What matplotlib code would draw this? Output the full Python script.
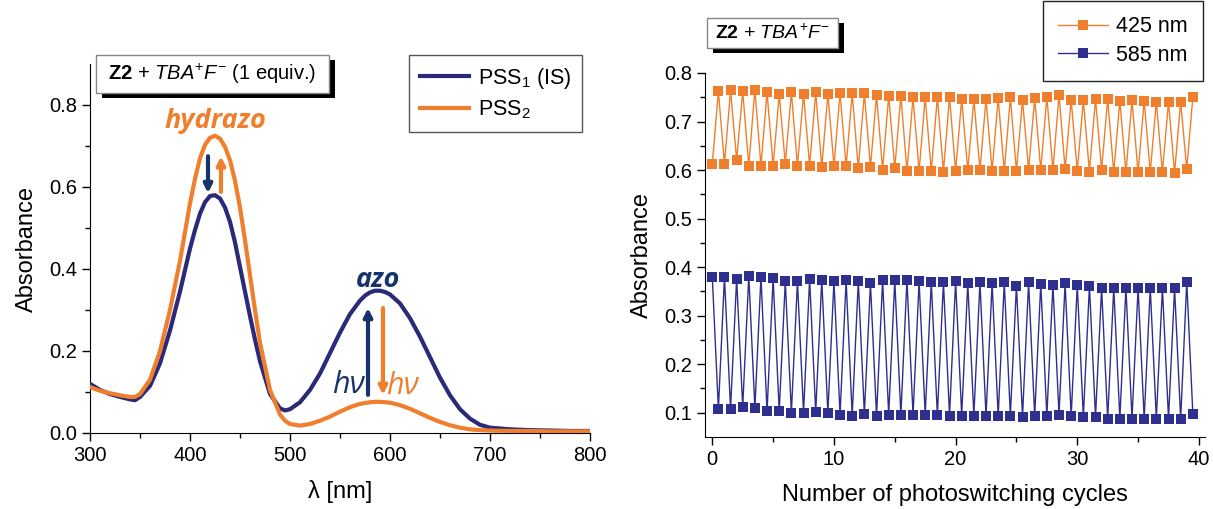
import numpy as np
import matplotlib
matplotlib.use('Agg')
import matplotlib.pyplot as plt
from matplotlib.patches import Rectangle

plt.rcParams['font.family'] = ['Liberation Sans', 'DejaVu Sans']
plt.rcParams['mathtext.fontset'] = 'custom'
plt.rcParams['mathtext.rm'] = 'Liberation Sans'
plt.rcParams['mathtext.it'] = 'Liberation Sans:italic'
plt.rcParams['mathtext.bf'] = 'Liberation Sans:bold'

# Left panel: absorption spectra
wavelength = [300, 310, 320, 330, 340, 345, 350, 360, 370, 380, 390, 400, 405, 410, 415,
              420, 425, 430, 435, 440, 445, 450, 455, 460, 465, 470, 480, 490, 495, 500,
              510, 520, 530, 540, 550, 560, 570, 575, 580, 585, 590, 595, 600, 610, 620,
              630, 640, 650, 660, 670, 680, 690, 700, 720, 740, 760, 780, 800]
pss1 = [0.120, 0.105, 0.095, 0.088, 0.082, 0.080, 0.088, 0.115, 0.170, 0.250, 0.345, 0.450,
        0.495, 0.535, 0.563, 0.578, 0.580, 0.572, 0.550, 0.515, 0.465, 0.405, 0.345, 0.285,
        0.228, 0.175, 0.095, 0.060, 0.055, 0.058, 0.075, 0.105, 0.145, 0.195, 0.245, 0.290,
        0.323, 0.335, 0.343, 0.347, 0.347, 0.344, 0.338, 0.316, 0.280, 0.235, 0.185, 0.135,
        0.092, 0.058, 0.035, 0.020, 0.013, 0.009, 0.007, 0.006, 0.005, 0.005]
pss2 = [0.112, 0.103, 0.097, 0.092, 0.088, 0.088, 0.095, 0.130, 0.200, 0.300, 0.420, 0.560,
        0.620, 0.670, 0.703, 0.720, 0.725, 0.718, 0.698, 0.665, 0.615, 0.550, 0.470, 0.385,
        0.300, 0.220, 0.105, 0.045, 0.030, 0.022, 0.018, 0.022, 0.030, 0.040, 0.052, 0.063,
        0.071, 0.073, 0.075, 0.076, 0.076, 0.075, 0.074, 0.068, 0.059, 0.048, 0.037, 0.027,
        0.019, 0.013, 0.009, 0.007, 0.006, 0.005, 0.005, 0.004, 0.004, 0.004]

# Right panel: photoswitching cycles (IS at whole cycles, PSS2 at half cycles)
a425_is = [0.612, 0.612, 0.621, 0.609, 0.609, 0.609, 0.613, 0.609, 0.609, 0.606, 0.609, 0.608,
           0.604, 0.606, 0.601, 0.604, 0.598, 0.598, 0.598, 0.597, 0.598, 0.600, 0.600, 0.598,
           0.598, 0.598, 0.600, 0.600, 0.600, 0.602, 0.598, 0.597, 0.600, 0.595, 0.595, 0.595,
           0.595, 0.595, 0.594, 0.602]
a425_pss = [0.762, 0.764, 0.762, 0.766, 0.760, 0.756, 0.760, 0.757, 0.760, 0.757, 0.758, 0.758,
            0.758, 0.754, 0.753, 0.753, 0.750, 0.750, 0.750, 0.750, 0.746, 0.746, 0.746, 0.748,
            0.750, 0.744, 0.748, 0.751, 0.755, 0.744, 0.744, 0.746, 0.746, 0.743, 0.744, 0.743,
            0.741, 0.741, 0.741, 0.750]
a585_is = [0.380, 0.380, 0.376, 0.382, 0.380, 0.377, 0.371, 0.371, 0.376, 0.374, 0.371, 0.373,
           0.371, 0.367, 0.373, 0.373, 0.374, 0.371, 0.369, 0.369, 0.371, 0.367, 0.369, 0.367,
           0.369, 0.362, 0.369, 0.366, 0.364, 0.367, 0.364, 0.362, 0.357, 0.357, 0.357, 0.357,
           0.357, 0.357, 0.356, 0.370]
a585_pss = [0.107, 0.107, 0.112, 0.109, 0.103, 0.103, 0.100, 0.100, 0.101, 0.100, 0.096, 0.094,
            0.098, 0.093, 0.096, 0.095, 0.095, 0.096, 0.095, 0.094, 0.094, 0.094, 0.093, 0.093,
            0.094, 0.092, 0.093, 0.093, 0.096, 0.093, 0.091, 0.091, 0.088, 0.088, 0.088, 0.088,
            0.088, 0.088, 0.087, 0.098]

navy = '#2B2A78'
orange = '#F07F2D'
blue = '#2E2F8E'
arrow_navy = '#17336B'

W, H = 1213, 509
fig = plt.figure(figsize=(W / 100, H / 100), dpi=100)


def px_box(x0, y0, x1, y1):
    return [x0 / W, 1 - y1 / H, (x1 - x0) / W, (y1 - y0) / H]


def style_axis(ax):
    ax.spines['top'].set_visible(False)
    ax.spines['right'].set_visible(False)
    ax.tick_params(which='major', direction='out', length=6, width=1, labelsize=14.5)
    ax.tick_params(which='minor', direction='out', length=3.5, width=1)


def title_box(x0, y0, x1, y1, label, size):
    shadow = Rectangle((x0 + 6 / W, y0 - 5 / H), x1 - x0, y1 - y0, transform=fig.transFigure,
                       facecolor='black', edgecolor='none', zorder=5)
    box = Rectangle((x0, y0), x1 - x0, y1 - y0, transform=fig.transFigure,
                    facecolor='white', edgecolor='#888888', lw=1, zorder=6)
    fig.patches.extend([shadow, box])
    fig.text((x0 + x1) / 2, (y0 + y1) / 2, label, ha='center', va='center',
             fontsize=size, zorder=7)


# ---- left panel ----
ax1 = fig.add_axes(px_box(90, 64, 590, 433))
ax1.plot(wavelength, pss1, color=navy, lw=3, label='PSS$_1$ (IS)', zorder=3)
ax1.plot(wavelength, pss2, color=orange, lw=3, label='PSS$_2$', zorder=3)
ax1.set_xlim(300, 800)
ax1.set_ylim(0, 0.9)
ax1.set_xticks([300, 400, 500, 600, 700, 800])
ax1.set_xticks([350, 450, 550, 650, 750], minor=True)
ax1.set_yticks([0.0, 0.2, 0.4, 0.6, 0.8])
ax1.set_yticks([0.1, 0.3, 0.5, 0.7], minor=True)
ax1.yaxis.set_major_formatter(matplotlib.ticker.FormatStrFormatter('%.1f'))
style_axis(ax1)
ax1.set_xlabel('λ [nm]', fontsize=17, labelpad=11)
ax1.set_ylabel('Absorbance', fontsize=17, labelpad=8)

ax1.text(425, 0.76, 'hydrazo', color=orange, fontsize=19.5, fontweight='bold',
         fontstyle='italic', ha='center', va='center', family='Open Sans')
ax1.text(588, 0.373, 'azo', color=arrow_navy, fontsize=19.5, fontweight='bold',
         fontstyle='italic', ha='center', va='center', family='Open Sans')

def arrow(x, y_from, y_to, color):
    ax1.annotate('', xy=(x, y_to), xytext=(x, y_from),
                 arrowprops=dict(arrowstyle='-|>', lw=3, color=color, mutation_scale=12,
                                 shrinkA=0, shrinkB=0))

arrow(418, 0.675, 0.585, arrow_navy)
arrow(431, 0.588, 0.675, orange)
arrow(578, 0.093, 0.305, arrow_navy)
arrow(593, 0.305, 0.093, orange)
ax1.text(575, 0.117, 'hν', color=arrow_navy, fontsize=22, fontstyle='italic', ha='right',
         va='center', family='Open Sans')
ax1.text(596, 0.115, 'hν', color=orange, fontsize=22, fontstyle='italic', ha='left',
         va='center', family='Open Sans')

leg1 = ax1.legend(loc='upper right', bbox_to_anchor=(582 / W, 1 - 55 / H),
                  bbox_transform=fig.transFigure, fontsize=15.5, frameon=True, fancybox=False,
                  edgecolor='#555555', framealpha=1, handlelength=2.3, borderaxespad=0,
                  labelspacing=0.35, handletextpad=0.4, borderpad=0.5)
leg1.get_frame().set_linewidth(1)

title_box(96 / W, 1 - 93 / H, 329 / W, 1 - 55 / H,
          r'$\mathbf{Z2}$ + $\mathit{TBA}^{+}\mathit{F}^{-}$ (1 equiv.)', 14.5)

# ---- right panel ----
cycles_is = np.arange(0, 40)
cycles_pss = cycles_is + 0.5
cycles = np.ravel(np.column_stack([cycles_is, cycles_pss]))
y425 = np.ravel(np.column_stack([a425_is, a425_pss]))
y585 = np.ravel(np.column_stack([a585_is, a585_pss]))

ax2 = fig.add_axes(px_box(705, 73, 1205, 437))
ax2.plot(cycles, y425, color=orange, lw=1, marker='s', markersize=6.8,
         markeredgewidth=0, label='425 nm')
ax2.plot(cycles, y585, color=blue, lw=1, marker='s', markersize=6.8,
         markeredgewidth=0, label='585 nm')
ax2.set_xlim(-0.6, 40.5)
ax2.set_ylim(0.05, 0.8)
ax2.set_xticks([0, 10, 20, 30, 40])
ax2.set_xticks([5, 15, 25, 35], minor=True)
ax2.set_yticks([0.1, 0.2, 0.3, 0.4, 0.5, 0.6, 0.7, 0.8])
ax2.set_yticks([0.15, 0.25, 0.35, 0.45, 0.55, 0.65, 0.75], minor=True)
style_axis(ax2)
ax2.set_xlabel('Number of photoswitching cycles', fontsize=17, labelpad=11)
ax2.set_ylabel('Absorbance', fontsize=17, labelpad=8)

leg2 = ax2.legend(loc='upper right', bbox_to_anchor=(1203 / W, 1 - 1 / H),
                  bbox_transform=fig.transFigure, fontsize=15.5, frameon=True, fancybox=False,
                  edgecolor='#222222', framealpha=1, handlelength=2.3, borderaxespad=0,
                  labelspacing=0.35, handletextpad=0.4, borderpad=0.7)
leg2.get_frame().set_linewidth(1)

title_box(707 / W, 1 - 48 / H, 838 / W, 1 - 18 / H,
          r'$\mathbf{Z2}$ + $\mathit{TBA}^{+}\mathit{F}^{-}$', 14)

fig.savefig('out.png', dpi=100)
